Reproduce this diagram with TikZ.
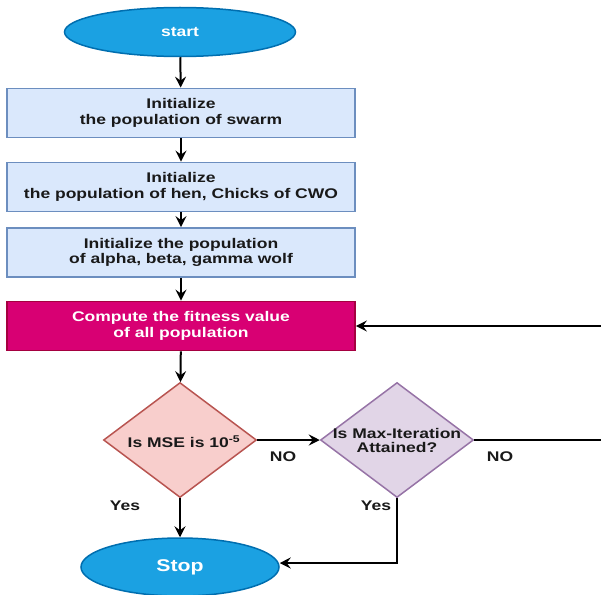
\documentclass[tikz,border=0pt]{standalone}
\usepackage{fontspec}
\setmainfont[FakeStretch=1.25]{Liberation Sans}
\usetikzlibrary{shapes.geometric,arrows.meta}
\definecolor{blueF}{HTML}{1BA1E2}
\definecolor{blueS}{HTML}{006EAF}
\definecolor{boxF}{HTML}{DAE8FC}
\definecolor{boxS}{HTML}{6C8EBF}
\definecolor{pinkF}{HTML}{D80073}
\definecolor{pinkS}{HTML}{A50040}
\definecolor{redF}{HTML}{F8CECC}
\definecolor{redS}{HTML}{B85450}
\definecolor{purF}{HTML}{E1D5E7}
\definecolor{purS}{HTML}{9673A6}
\tikzset{
  term/.style={ellipse, fill=blueF, draw=blueS, line width=1.5pt, text=white, font=\bfseries, inner sep=0pt},
  procbox/.style={rectangle, fill=boxF, draw=boxS, line width=1.8pt, minimum width=348pt, minimum height=49pt, align=center, font=\fontsize{14}{15.5}\selectfont\bfseries, inner sep=0pt, text=black!90},
  decide/.style={diamond, line width=1.5pt, minimum width=153pt, minimum height=115pt, inner sep=0pt},
  dtext/.style={align=center, font=\fontsize{14}{14}\selectfont\bfseries, text=black!90, inner sep=0pt},
  flow/.style={line width=2pt, -{Stealth[length=11pt,width=11pt,inset=4pt]}},
  lbl/.style={font=\fontsize{14}{15}\selectfont\bfseries, text=black!90, inner sep=0pt}
}
\begin{document}
\begin{tikzpicture}[x=1pt,y=-1pt]
\useasboundingbox (0,0) rectangle (601,594);
\node[term, minimum width=231pt, minimum height=49pt, font=\fontsize{14}{15}\selectfont\bfseries] (start) at (180,32) {start};
\node[procbox] (b1) at (181,113) {Initialize\\the population of swarm};
\node[procbox] (b2) at (181,187) {Initialize\\the population of hen, Chicks of CWO};
\node[procbox] (b3) at (181,252.5) {Initialize the population\\of alpha, beta, gamma wolf};
\node[procbox, fill=pinkF, draw=pinkS, text=white] (fit) at (181,326) {Compute the fitness value\\of all population};
\node[decide, fill=redF, draw=redS] (d1) at (180,440) {};
\node[dtext] (t1) at (184,442) {Is MSE is 10\textsuperscript{-5}};
\node[decide, fill=purF, draw=purS] (d2) at (397,440) {};
\node[dtext] (t2) at (397,440) {Is Max-Iteration\\Attained?};
\node[term, minimum width=198pt, minimum height=58pt, font=\fontsize{17}{19}\selectfont\bfseries] (stop) at (180,567) {Stop};
\coordinate (r1) at (601,440);
\coordinate (r2) at (601,326);
\draw[flow] (start) -- (b1);
\draw[flow] (b1) -- (b2);
\draw[flow] (b2) -- (b3);
\draw[flow] (b3) -- (fit);
\draw[flow] (fit) -- (d1);
\draw[flow] (d1.east) -- (d2.west);
\draw[line width=2pt] (d2.east) -- (r1);
\draw[flow] (r2) -- (fit.east);
\draw[flow] (d1.south) -- (stop.north);
\draw[flow] (d2.south) |- ([yshift=4pt]stop.east);
\node[lbl] (no1) at (283,457) {NO};
\node[lbl] (no2) at (500,457) {NO};
\node[lbl] (y1) at (125,506) {Yes};
\node[lbl] (y2) at (376,506) {Yes};
\end{tikzpicture}
\end{document}
